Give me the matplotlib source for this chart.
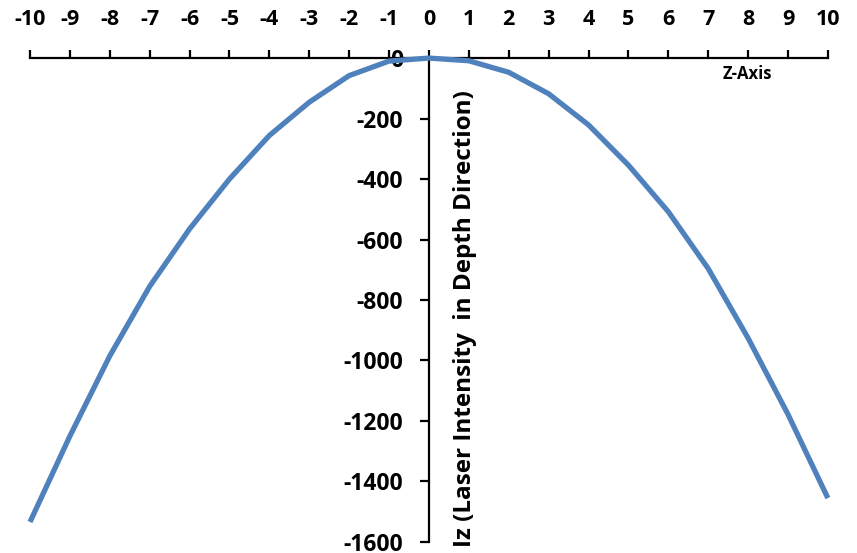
import matplotlib.pyplot as plt

z_values = [-10, -9, -8, -7, -6, -5, -4, -3, -2, -1, 0, 1, 2, 3, 4, 5, 6, 7, 8, 9, 10]
iz_values = [-1534, -1250, -985, -755, -565, -400, -256, -146, -58, -10, 0,
             -9, -47, -118, -221, -354, -508, -696, -926, -1178, -1455]

x_ticks = list(range(-10, 11))
y_ticks = list(range(-1600, 1, 200))

plt.rcParams['font.family'] = ['Open Sans', 'DejaVu Sans']
plt.rcParams['font.weight'] = 'bold'

fig = plt.figure(figsize=(8.57, 5.53), dpi=100)
ax = fig.add_axes([0.035, 0.02, 0.931, 0.875])

ax.plot(z_values, iz_values, color='#4F81BD', linewidth=3.8, clip_on=False,
        solid_capstyle='butt', solid_joinstyle='miter')

ax.set_xlim(-10, 10)
ax.set_ylim(-1600, 0)

ax.spines['left'].set_position(('data', 0))
ax.spines['right'].set_visible(False)
ax.spines['bottom'].set_visible(False)
for side in ('left', 'top'):
    ax.spines[side].set_linewidth(1.6)
    ax.spines[side].set_zorder(1)

ax.xaxis.set_ticks_position('top')
ax.set_xticks(x_ticks)
ax.set_xticklabels([str(v) for v in x_ticks])
ax.set_yticks(y_ticks)
ax.set_yticklabels([str(v) for v in y_ticks])
ax.tick_params(axis='x', direction='out', length=6, width=1.6, pad=14,
               labelsize=15.5)
ax.tick_params(axis='y', direction='out', length=6.5, width=1.6, pad=12,
               labelsize=16.5)

ax.text(0.9, -860, 'Iz (Laser Intensity  in Depth Direction)', rotation=90,
        ha='center', va='center', fontsize=17.5, fontweight='bold')
ax.text(7.97, -53, 'Z-Axis', ha='center', va='center', fontsize=12,
        fontweight='bold')

fig.savefig('out.png', dpi=100)
